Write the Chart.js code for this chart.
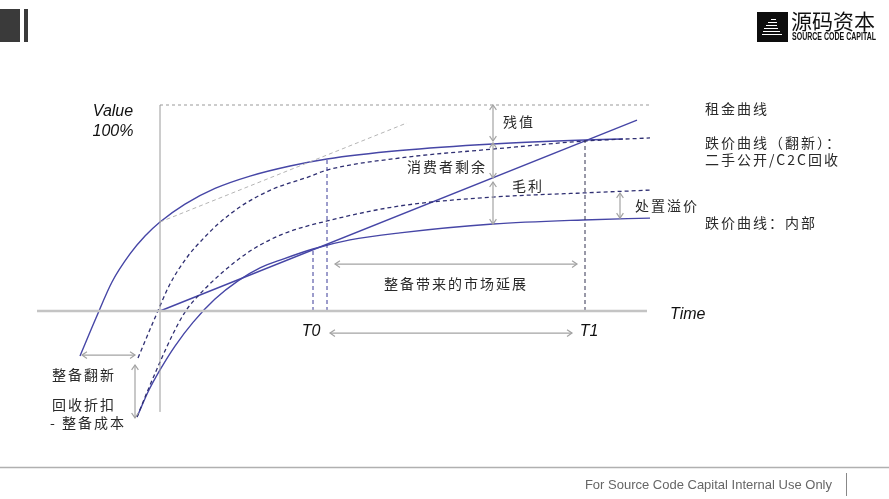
<!DOCTYPE html>
<html>
<head>
<meta charset="utf-8">
<script src="https://cdn.jsdelivr.net/npm/chart.js@4.4.0/dist/chart.umd.min.js"></script>
<style>
  html, body { margin: 0; padding: 0; background: #fff; }
  canvas { display: block; }
</style>
</head>
<body>
<canvas id="chartValue" width="889" height="499"></canvas>
<script>
// x = time since purchase, y = value in % of new price
const rentX = [0, 477];
const rentY = [0, 92.7];

// 跌价曲线（翻新）
const publicX = [-80, -64, -48, -30, -15, 0, 25, 55, 90, 130, 167, 240, 333, 425, 463];
const publicY = [-21.8, -3.4, 14.1, 27.7, 36.4, 43.2, 51.9, 59.5, 65.5, 70.4, 73.8, 77.9, 81.1, 83.0, 83.5];

// 二手公开/C2C回收 (dashed)
const c2cX = [-22, -6, 10, 28, 43, 58, 83, 113, 148, 167, 240, 333, 425, 490];
const c2cY = [-22.8, -4.4, 13.1, 26.7, 35.0, 42.2, 51.5, 59.2, 65.0, 68.4, 74.3, 78.6, 82.5, 84.0];

// 处置 (dashed)
const disposalX = [-23, -12, 0, 12, 25, 40, 55, 75, 95, 123, 167, 240, 333, 423, 490];
const disposalY = [-51.5, -38.3, -24.8, -12.1, -0.5, 8.3, 15.5, 23.8, 30.6, 37.4, 43.7, 51.0, 55.3, 57.3, 58.7];

// 跌价曲线：内部
const internalX = [-23, -12, 0, 15, 33, 55, 78, 100, 123, 153, 190, 240, 333, 423, 490];
const internalY = [-51.5, -39.3, -28.6, -17.0, -5.5, 5.8, 14.6, 20.9, 25.2, 30.1, 34.5, 37.9, 42.2, 44.2, 45.1];

const tangentX = [0, 247];
const tangentY = [43.2, 91.3];

// vertical dashed markers (x, top value)
const markX = [153, 167, 425];
const markTop = [30.1, 73.8, 83.0];

const timeLabels = ["T0", "T1"];
const timeLabelX = [151, 429];

// arrows: [x1, y1, x2, y2]
const arrows = [
    [333, 100, 333, 82.5],
    [333, 81.6, 333, 64.6],
    [333, 62.6, 333, 42.2],
    [460, 57.3, 460, 45.1],
    [175, 22.8, 417, 22.8],
    [170, -10.7, 412, -10.7],
    [-78, -21.4, -25, -21.4],
    [-25, -26.2, -25, -51.9]
];

// text: [text, x, y, align]
const notes = [
    ["残值", 343, 91.7, "left"],
    ["消费者剩余", 327, 69.9, "right"],
    ["毛利", 352, 60.7, "left"],
    ["整备带来的市场延展", 296, 13.1, "center"],
    ["处置溢价", 475, 51.0, "left"],
    ["租金曲线", 545, 98.1, "left"],
    ["跌价曲线（翻新）：", 545, 81.6, "left"],
    ["二手公开/C2C回收", 545, 73.3, "left"],
    ["跌价曲线：内部", 545, 42.7, "left"],
    ["整备翻新", -108, -31.1, "left"],
    ["回收折扣", -108, -45.6, "left"],
    ["- 整备成本", -110, -54.4, "left"]
];

function pts(xs, ys) {
    return xs.map((v, i) => ({ x: v, y: ys[i] }));
}

function lineSet(data, color, width, dash, smooth) {
    return {
        data: data,
        showLine: true,
        borderColor: color,
        borderWidth: width,
        borderDash: dash || [],
        pointRadius: 0,
        fill: false,
        tension: 0,
        cubicInterpolationMode: smooth ? "monotone" : "default",
    };
}

const datasets = [
    lineSet([{ x: -123, y: 0 }, { x: 487, y: 0 }], "#c4c4c4", 2.5),
    lineSet([{ x: 0, y: -49 }, { x: 0, y: 100 }], "#9a9a9a", 1),
    lineSet([{ x: 0, y: 100 }, { x: 490, y: 100 }], "#9a9a9a", 1, [3, 3]),
    lineSet(pts(tangentX, tangentY), "#b5b5b5", 1, [4, 3]),
];
markX.forEach((mx, i) => {
    const color = i === 2 ? "#333350" : "#3a3a98";
    datasets.push(lineSet([{ x: mx, y: 0 }, { x: mx, y: markTop[i] }], color, 1, [4, 3]));
});
datasets.push(lineSet(pts(c2cX, c2cY), "#2f2f72", 1.3, [4, 3], true));
datasets.push(lineSet(pts(disposalX, disposalY), "#2f2f72", 1.3, [4, 3], true));
datasets.push(lineSet(pts(publicX, publicY), "#4646a6", 1.4, null, true));
datasets.push(lineSet(pts(internalX, internalY), "#4646a6", 1.4, null, true));
datasets.push(lineSet(pts(rentX, rentY), "#4646a6", 1.4));

function arrowHead(ctx, x1, y1, x2, y2) {
    const a = Math.atan2(y2 - y1, x2 - x1);
    const s = 6;
    ctx.beginPath();
    ctx.moveTo(x2 - s * Math.cos(a - 0.6), y2 - s * Math.sin(a - 0.6));
    ctx.lineTo(x2, y2);
    ctx.lineTo(x2 - s * Math.cos(a + 0.6), y2 - s * Math.sin(a + 0.6));
    ctx.stroke();
}

const overlay = {
    id: "overlay",
    afterDatasetsDraw(chart) {
        const { ctx, scales: { x, y } } = chart;
        ctx.save();

        // arrows
        ctx.strokeStyle = "#a3a3a3";
        ctx.lineWidth = 1.2;
        arrows.forEach((a) => {
            const x1 = x.getPixelForValue(a[0]), y1 = y.getPixelForValue(a[1]);
            const x2 = x.getPixelForValue(a[2]), y2 = y.getPixelForValue(a[3]);
            ctx.beginPath();
            ctx.moveTo(x1, y1);
            ctx.lineTo(x2, y2);
            ctx.stroke();
            arrowHead(ctx, x1, y1, x2, y2);
            arrowHead(ctx, x2, y2, x1, y1);
        });

        // axis text
        ctx.fillStyle = "#111";
        ctx.textBaseline = "middle";
        ctx.font = "italic 16px 'Liberation Sans', Arial, sans-serif";
        ctx.textAlign = "center";
        ctx.fillText("Value", x.getPixelForValue(-47), y.getPixelForValue(96.6));
        ctx.fillText("100%", x.getPixelForValue(-47), y.getPixelForValue(87.1));
        ctx.textAlign = "left";
        ctx.fillText("Time", x.getPixelForValue(510), y.getPixelForValue(-1.9));
        ctx.textAlign = "center";
        timeLabels.forEach((t, i) => {
            ctx.fillText(t, x.getPixelForValue(timeLabelX[i]), y.getPixelForValue(-10.2));
        });

        // notes
        ctx.fillStyle = "#2a2a2a";
        ctx.font = "14px 'Noto Sans CJK SC', sans-serif";
        ctx.letterSpacing = "2px";
        notes.forEach((n) => {
            ctx.textAlign = n[3];
            ctx.fillText(n[0], x.getPixelForValue(n[1]), y.getPixelForValue(n[2]));
        });
        ctx.letterSpacing = "0px";

        // header block
        ctx.fillStyle = "#3a3a3a";
        ctx.fillRect(0, 9, 20, 33);
        ctx.fillRect(24, 9, 4, 33);

        // logo
        ctx.fillStyle = "#0d0d0d";
        ctx.fillRect(757, 12, 31, 30);
        ctx.strokeStyle = "#fff";
        ctx.lineWidth = 1;
        [[771, 19, 5], [768, 22, 9], [766, 25, 11], [764, 28, 14], [763, 31, 17], [762, 34, 20]].forEach((l) => {
            ctx.beginPath();
            ctx.moveTo(l[0], l[1] + 0.5);
            ctx.lineTo(l[0] + l[2], l[1] + 0.5);
            ctx.stroke();
        });
        ctx.fillStyle = "#111";
        ctx.textAlign = "left";
        ctx.font = "21px 'Noto Sans CJK SC', sans-serif";
        ctx.fillText("源码资本", 791, 21);
        ctx.font = "bold 10px 'Liberation Sans', Arial, sans-serif";
        ctx.fillText("SOURCE CODE CAPITAL", 792, 37, 84);

        // footer
        ctx.strokeStyle = "#b0b0b0";
        ctx.lineWidth = 1.5;
        ctx.beginPath();
        ctx.moveTo(0, 467.5);
        ctx.lineTo(889, 467.5);
        ctx.stroke();
        ctx.fillStyle = "#666";
        ctx.font = "13px 'Liberation Sans', Arial, sans-serif";
        ctx.textAlign = "right";
        ctx.fillText("For Source Code Capital Internal Use Only", 832, 485);
        ctx.strokeStyle = "#888";
        ctx.lineWidth = 1;
        ctx.beginPath();
        ctx.moveTo(846.5, 473);
        ctx.lineTo(846.5, 496);
        ctx.stroke();

        ctx.restore();
    }
};

new Chart(document.getElementById("chartValue"), {
    type: "scatter",
    data: { datasets: datasets },
    options: {
        responsive: false,
        animation: false,
        layout: { padding: 0 },
        plugins: { legend: { display: false }, tooltip: { enabled: false } },
        scales: {
            x: { type: "linear", min: -160, max: 729, display: false },
            y: { type: "linear", min: -91.26, max: 150.97, display: false }
        }
    },
    plugins: [overlay]
});
</script>
</body>
</html>
